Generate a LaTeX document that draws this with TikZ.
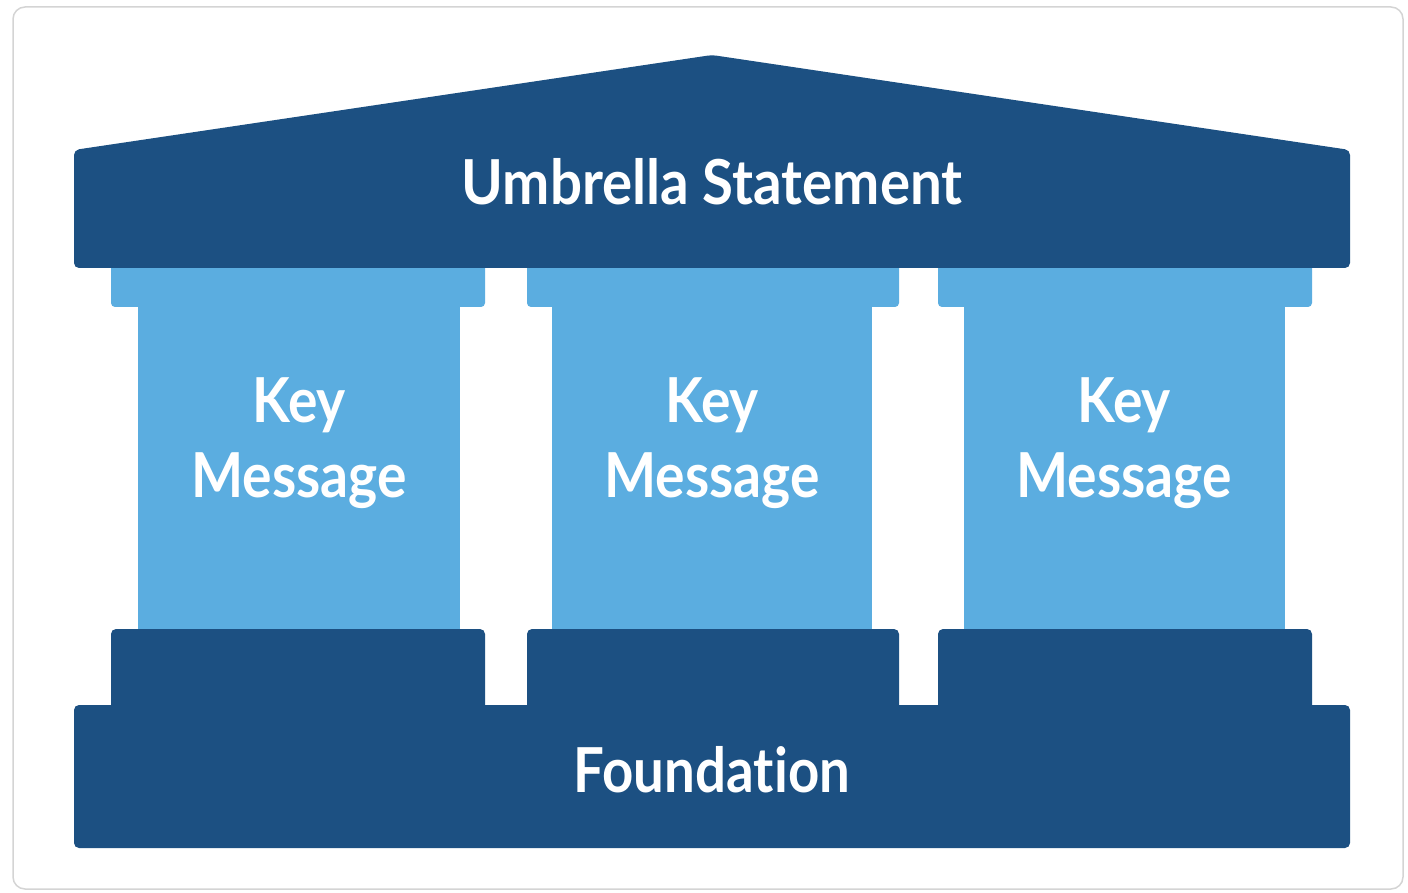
\documentclass[tikz,border=0pt]{standalone}
\usepackage{fontspec}
\setmainfont{Lato}[Ligatures=NoCommon]
\definecolor{darkb}{HTML}{1C5082}
\definecolor{lightb}{HTML}{5BADE0}
\definecolor{framegray}{HTML}{D4D4D4}
\newcommand{\narrowtxt}[2]{\scalebox{#1}[1]{#2}}
\begin{document}
\begin{tikzpicture}[x=1pt,y=-1pt,
  darkpart/.style={fill=darkb,rounded corners=5pt},
  lightpart/.style={fill=lightb,rounded corners=4pt},
  shaft/.style={fill=lightb},
  lbl/.style={text=white,font=\bfseries\fontsize{62}{62}\selectfont,anchor=base,inner sep=0pt}]
\useasboundingbox (0,0) rectangle (1408,893);
\draw[framegray,line width=1.5pt,rounded corners=12pt,fill=white] (13,7) rectangle (1403,889);
% capitals
\foreach \a/\b in {111/485,527/899,938/1312}{
  \path[lightpart] (\a,255) rectangle (\b,307);
}
% shafts
\foreach \a/\b in {138/460,552/872,964/1285}{
  \path[shaft] (\a,300) rectangle (\b,640);
}
% bases
\foreach \a/\b in {111/485,527/899,938/1312}{
  \path[darkpart] (\a,629) rectangle (\b,720);
}
% foundation
\path[darkpart] (74,705) rectangle (1350,848);
% roof
\path[darkpart] (74,268) -- (74,150) -- (712,55) -- (1350,150) -- (1350,268) -- cycle;
% texts
\node[lbl] (umb) at (712,205) {\narrowtxt{0.91}{Umbrella Statement}};
\node[lbl] (k1) at (299,422) {\narrowtxt{0.89}{Key}};
\node[lbl] (m1) at (299,497) {\narrowtxt{0.89}{Message}};
\node[lbl] (k2) at (712,422) {\narrowtxt{0.89}{Key}};
\node[lbl] (m2) at (712,497) {\narrowtxt{0.89}{Message}};
\node[lbl] (k3) at (1124,422) {\narrowtxt{0.89}{Key}};
\node[lbl] (m3) at (1124,497) {\narrowtxt{0.89}{Message}};
\node[lbl] (fnd) at (712,792) {\narrowtxt{0.88}{Founda\kern0pt tion}};
\end{tikzpicture}
\end{document}
